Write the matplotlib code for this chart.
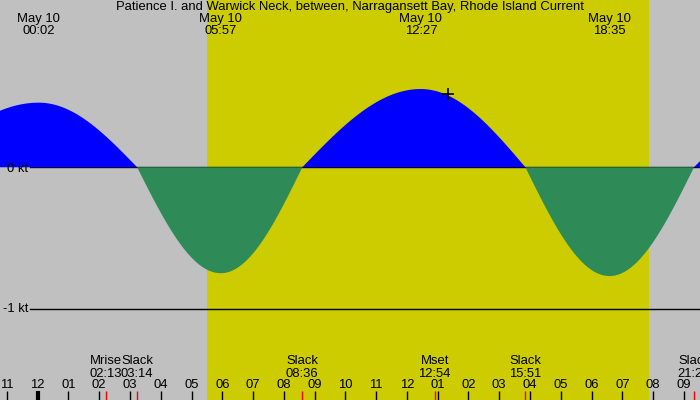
import numpy as np
import matplotlib
matplotlib.use("Agg")
import matplotlib.pyplot as plt
import matplotlib.transforms as mtransforms

plt.rcParams['font.family'] = ['Liberation Sans', 'DejaVu Sans']

title = "Patience I. and Warwick Neck, between, Narragansett Bay, Rhode Island Current"

# Current events (hours from midnight May 10, speed in knots)
event_hours = [-3.87, 0.033, 3.233, 5.95, 8.6, 12.45, 15.85, 18.583, 21.33, 24.5]
event_speeds = [0.0, 0.455, 0.0, -0.746, 0.0, 0.551, 0.0, -0.766, 0.0, 0.45]

# Extremes labelled at top
top_hours = [0.033, 5.95, 12.45, 18.583]
top_dates = ["May 10", "May 10", "May 10", "May 10"]
top_times = ["00:02", "05:57", "12:27", "18:35"]

# Bottom event labels
bot_hours = [2.217, 3.233, 8.6, 12.9, 15.85, 21.33]
bot_names = ["Mrise", "Slack", "Slack", "Mset", "Slack", "Slack"]
bot_times = ["02:13", "03:14", "08:36", "12:54", "15:51", "21:20"]

# Hour ticks
tick_hours = list(range(-1, 22))
tick_labels = ["11", "12", "01", "02", "03", "04", "05", "06", "07", "08", "09", "10",
               "11", "12", "01", "02", "03", "04", "05", "06", "07", "08", "09"]

sunrise, sunset = 5.5, 19.87
marker_hour, marker_speed = 13.33, 0.516

GRAY = "#c0c0c0"
YELLOW = "#cccc00"
BLUE = "#0000ff"
GREEN = "#2e8b57"

fig = plt.figure(figsize=(7, 4), dpi=100)
ax = fig.add_axes([0, 0, 1, 1])
ax.set_facecolor(GRAY)
x0, x1 = -1.225, 21.525
ax.set_xlim(x0, x1)
ax.set_ylim(-1.639, 1.178)
ax.axis('off')
ax.add_patch(plt.Rectangle((x0, -1.639), x1 - x0, 2.817, color=GRAY, zorder=0))

ax.axvspan(sunrise, sunset, color=YELLOW, zorder=1, lw=0)

# Build curve with sinusoidal quarter-waves between events
xs, ys = [], []
for i in range(len(event_hours) - 1):
    h0, h1 = event_hours[i], event_hours[i + 1]
    v0, v1 = event_speeds[i], event_speeds[i + 1]
    t = np.linspace(0, 1, 120)
    if v0 == 0:
        v = v1 * np.sin(np.pi / 2 * t)
    else:
        v = v0 * np.cos(np.pi / 2 * t)
    xs.append(h0 + (h1 - h0) * t)
    ys.append(v)
xs = np.concatenate(xs)
ys = np.concatenate(ys)

ax.axhline(0, xmin=30 / 700, xmax=1, color='black', lw=1.0, zorder=2)
ax.fill_between(xs, 0, ys, where=ys >= 0, interpolate=True, color=BLUE, lw=0, zorder=3)
ax.fill_between(xs, 0, ys, where=ys <= 0, interpolate=True, color=GREEN, lw=0, zorder=3)
ax.axhline(-1, xmin=30 / 700, xmax=1, color='black', lw=1.0, zorder=4)

ax.plot([marker_hour], [marker_speed], marker='+', color='black', ms=9, mew=1.2, zorder=6)

fs = 9.4
trans_ax = mtransforms.blended_transform_factory(ax.transAxes, ax.transData)
ax.text(28 / 700, -0.01, "0 kt", transform=trans_ax, ha='right', va='center', fontsize=fs, zorder=5)
ax.text(28 / 700, -1.0, "-1 kt", transform=trans_ax, ha='right', va='center', fontsize=fs, zorder=5)

ax.text(0.5, 1 - 7 / 400, title, transform=ax.transAxes, ha='center', va='center', fontsize=fs, zorder=5)

trans = mtransforms.blended_transform_factory(ax.transData, ax.transAxes)
for h, d, t in zip(top_hours, top_dates, top_times):
    ax.text(h, 1 - 19 / 400, d, transform=trans, ha='center', va='center', fontsize=fs, zorder=5)
    ax.text(h, 1 - 31 / 400, t, transform=trans, ha='center', va='center', fontsize=fs, zorder=5)

for h, n, t in zip(bot_hours, bot_names, bot_times):
    ax.text(h, 1 - 361 / 400, n, transform=trans, ha='center', va='center', fontsize=fs, zorder=5)
    ax.text(h, 1 - 374 / 400, t, transform=trans, ha='center', va='center', fontsize=fs, zorder=5)
    ax.plot([h, h], [0, 9 / 400], transform=trans, color='red', lw=1, zorder=5,
            solid_capstyle='butt')

for h, lab in zip(tick_hours, tick_labels):
    ax.text(h, 1 - 385 / 400, lab, transform=trans, ha='center', va='center', fontsize=fs, zorder=5)
    ax.plot([h, h], [0, 9 / 400], transform=trans, color='black',
            lw=3 if h == 0 else 1, zorder=5, solid_capstyle='butt')

fig.savefig("out.png", dpi=100, facecolor=GRAY)
